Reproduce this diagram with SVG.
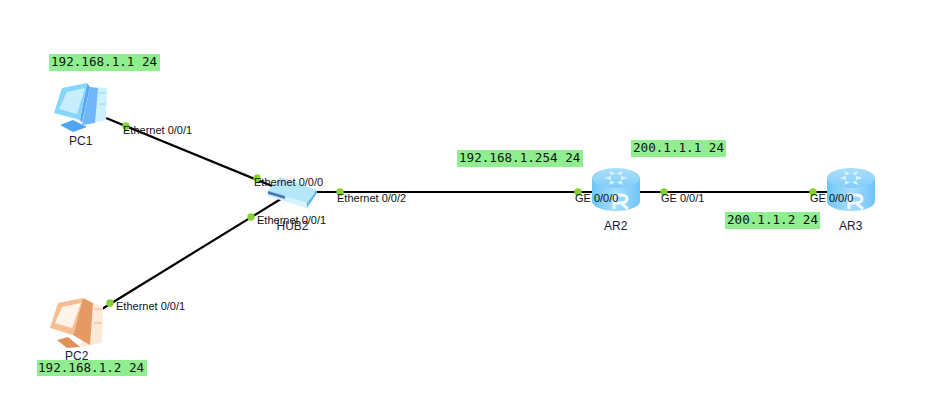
<svg xmlns="http://www.w3.org/2000/svg" width="941" height="404" viewBox="0 0 941 404">
<defs>
<linearGradient id="rt" x1="0" y1="0" x2="1" y2="0"><stop offset="0" stop-color="#6cc6f8"/><stop offset="0.5" stop-color="#a8defc"/><stop offset="1" stop-color="#6fc4f7"/></linearGradient>
<linearGradient id="rtop" x1="0" y1="0" x2="0" y2="1"><stop offset="0" stop-color="#a9e0fc"/><stop offset="1" stop-color="#82cdf9"/></linearGradient>
<g id="router">
<path d="M0 10 V33 C0 39 11 43 24 43 C37 43 48 39 48 33 V10 Z" fill="url(#rt)"/>
<ellipse cx="24" cy="10" rx="24" ry="10" fill="url(#rtop)"/>
<path d="M17 3 L23 5.500 L19 7.500 Z M31 3 L25 5.500 L29 7.500 Z M12 10 L19 8 L19 12 Z M36 10 L29 8 L29 12 Z M17 17 L23 14.500 L19 12.500 Z M31 17 L25 14.500 L29 12.500 Z" fill="#d8f2ff"/>
<path d="M22 41 V27 H29 Q35 27 35 31 Q35 34.500 29 35 L36 41 M22 35 H29" fill="none" stroke="#eefaff" stroke-width="3"/>
</g>
</defs>
<style>
.ip{font:12.600px "DejaVu Sans Mono","Liberation Mono",monospace;fill:#111}
.ipb{fill:#90ee90}
.lb{font:11px "Liberation Sans",Arial,sans-serif;fill:#111}
.nm{font:12px "Liberation Sans",Arial,sans-serif;fill:#1a1a3a}
.dot{fill:#86d235}
.ln{stroke:#000;stroke-width:2.200;fill:none}
</style>
<rect width="941" height="404" fill="#fff"/>
<g id="connectors">
<line class="ln" x1="106" y1="118" x2="272" y2="186"/>
<line class="ln" x1="102" y1="309" x2="284" y2="197"/>
<line class="ln" x1="310" y1="192" x2="595" y2="192"/>
<line class="ln" x1="636" y1="192" x2="830" y2="192"/>
<circle class="dot" cx="126" cy="126" r="3.700"/>
<circle class="dot" cx="257" cy="178" r="3.700"/>
<circle class="dot" cx="251" cy="217" r="3.700"/>
<circle class="dot" cx="110" cy="303" r="3.700"/>
<circle class="dot" cx="340" cy="192" r="3.700"/>
<circle class="dot" cx="578" cy="192" r="3.700"/>
<circle class="dot" cx="664" cy="192" r="3.700"/>
<circle class="dot" cx="813" cy="192" r="3.700"/>
</g>
<g id="pc1">
<path d="M60 125 L73 120 L87 127 L73 132 Z" fill="#4fa6f2"/>
<path d="M90 87 L107 88 L106 120 L85 125 Z" fill="#cdf1ff"/>
<path d="M90 87 L98 88 L95 123 L82 125 Z" fill="#6fb6fb"/>
<path d="M87 83 L90 87 L82 123 L80 120 Z" fill="#5aa8f5"/>
<path d="M62 88 L87 83 L80 120 L54 113 Z" fill="#86d6fc"/>
<path d="M67 92 L85 88 L77 114 L59 109 Z" fill="#c8eefe"/>
<path d="M99 93 H106 M99 104 H106" stroke="#8fd0f5" stroke-width="1"/>
<text class="nm" x="69" y="145">PC1</text>
</g>
<g id="pc2">
<path d="M57 340 L68 337 L80 347 L67 348 Z" fill="#e0905a"/>
<path d="M93 303 L103 307 L102 343 L80 347 Z" fill="#fde9d8"/>
<path d="M83 298 L93 303 L90 345 L73 335 Z" fill="#e69a63"/>
<path d="M58 303 L83 298 L73 335 L50 328 Z" fill="#f8bd90"/>
<path d="M62 307 L81 303 L72 328 L55 323 Z" fill="#fff4ea"/>
<path d="M94 309 H102 M94 323 H102" stroke="#eeb48a" stroke-width="1"/>
<text class="nm" x="65" y="360">PC2</text>
</g>
<g id="hub2">
<path d="M267 192 L280 177 L317 190 L307 203 Z" fill="#b5e7fb"/>
<path d="M267 192 L307 203 L307 208 L267 196 Z" fill="#d4f2fd"/>
<path d="M307 203 L317 190 L317 193 L307 208 Z" fill="#5fb5ef"/>
<path d="M268 191 L285 196 V199 L268 194 Z" fill="#4a78b8"/>
<text class="nm" x="276.500" y="230">HUB2</text>
</g>
<g id="ar2">
<use href="#router" x="592" y="168"/>
<text class="nm" x="604" y="230">AR2</text>
</g>
<g id="ar3">
<use href="#router" x="827" y="168"/>
<text class="nm" x="839" y="230">AR3</text>
</g>
<g id="labels">
<text class="lb" x="123" y="134">Ethernet 0/0/1</text>
<text class="lb" x="254" y="186">Ethernet 0/0/0</text>
<text class="lb" x="257" y="224">Ethernet 0/0/1</text>
<text class="lb" x="116" y="310">Ethernet 0/0/1</text>
<text class="lb" x="337" y="202">Ethernet 0/0/2</text>
<text class="lb" x="575" y="202">GE 0/0/0</text>
<text class="lb" x="661" y="202">GE 0/0/1</text>
<text class="lb" x="810" y="202">GE 0/0/0</text>
</g>
<g id="ip-notes">
<rect class="ipb" x="49" y="54" width="111" height="17"/><text class="ip" x="51" y="66">192.168.1.1 24</text>
<rect class="ipb" x="37" y="360" width="110" height="16"/><text class="ip" x="38" y="372">192.168.1.2 24</text>
<rect class="ipb" x="457" y="150" width="126" height="17"/><text class="ip" x="459" y="162">192.168.1.254 24</text>
<rect class="ipb" x="631" y="140" width="95" height="17"/><text class="ip" x="633" y="152">200.1.1.1 24</text>
<rect class="ipb" x="725" y="212" width="95" height="17"/><text class="ip" x="727" y="224">200.1.1.2 24</text>
</g>
</svg>
